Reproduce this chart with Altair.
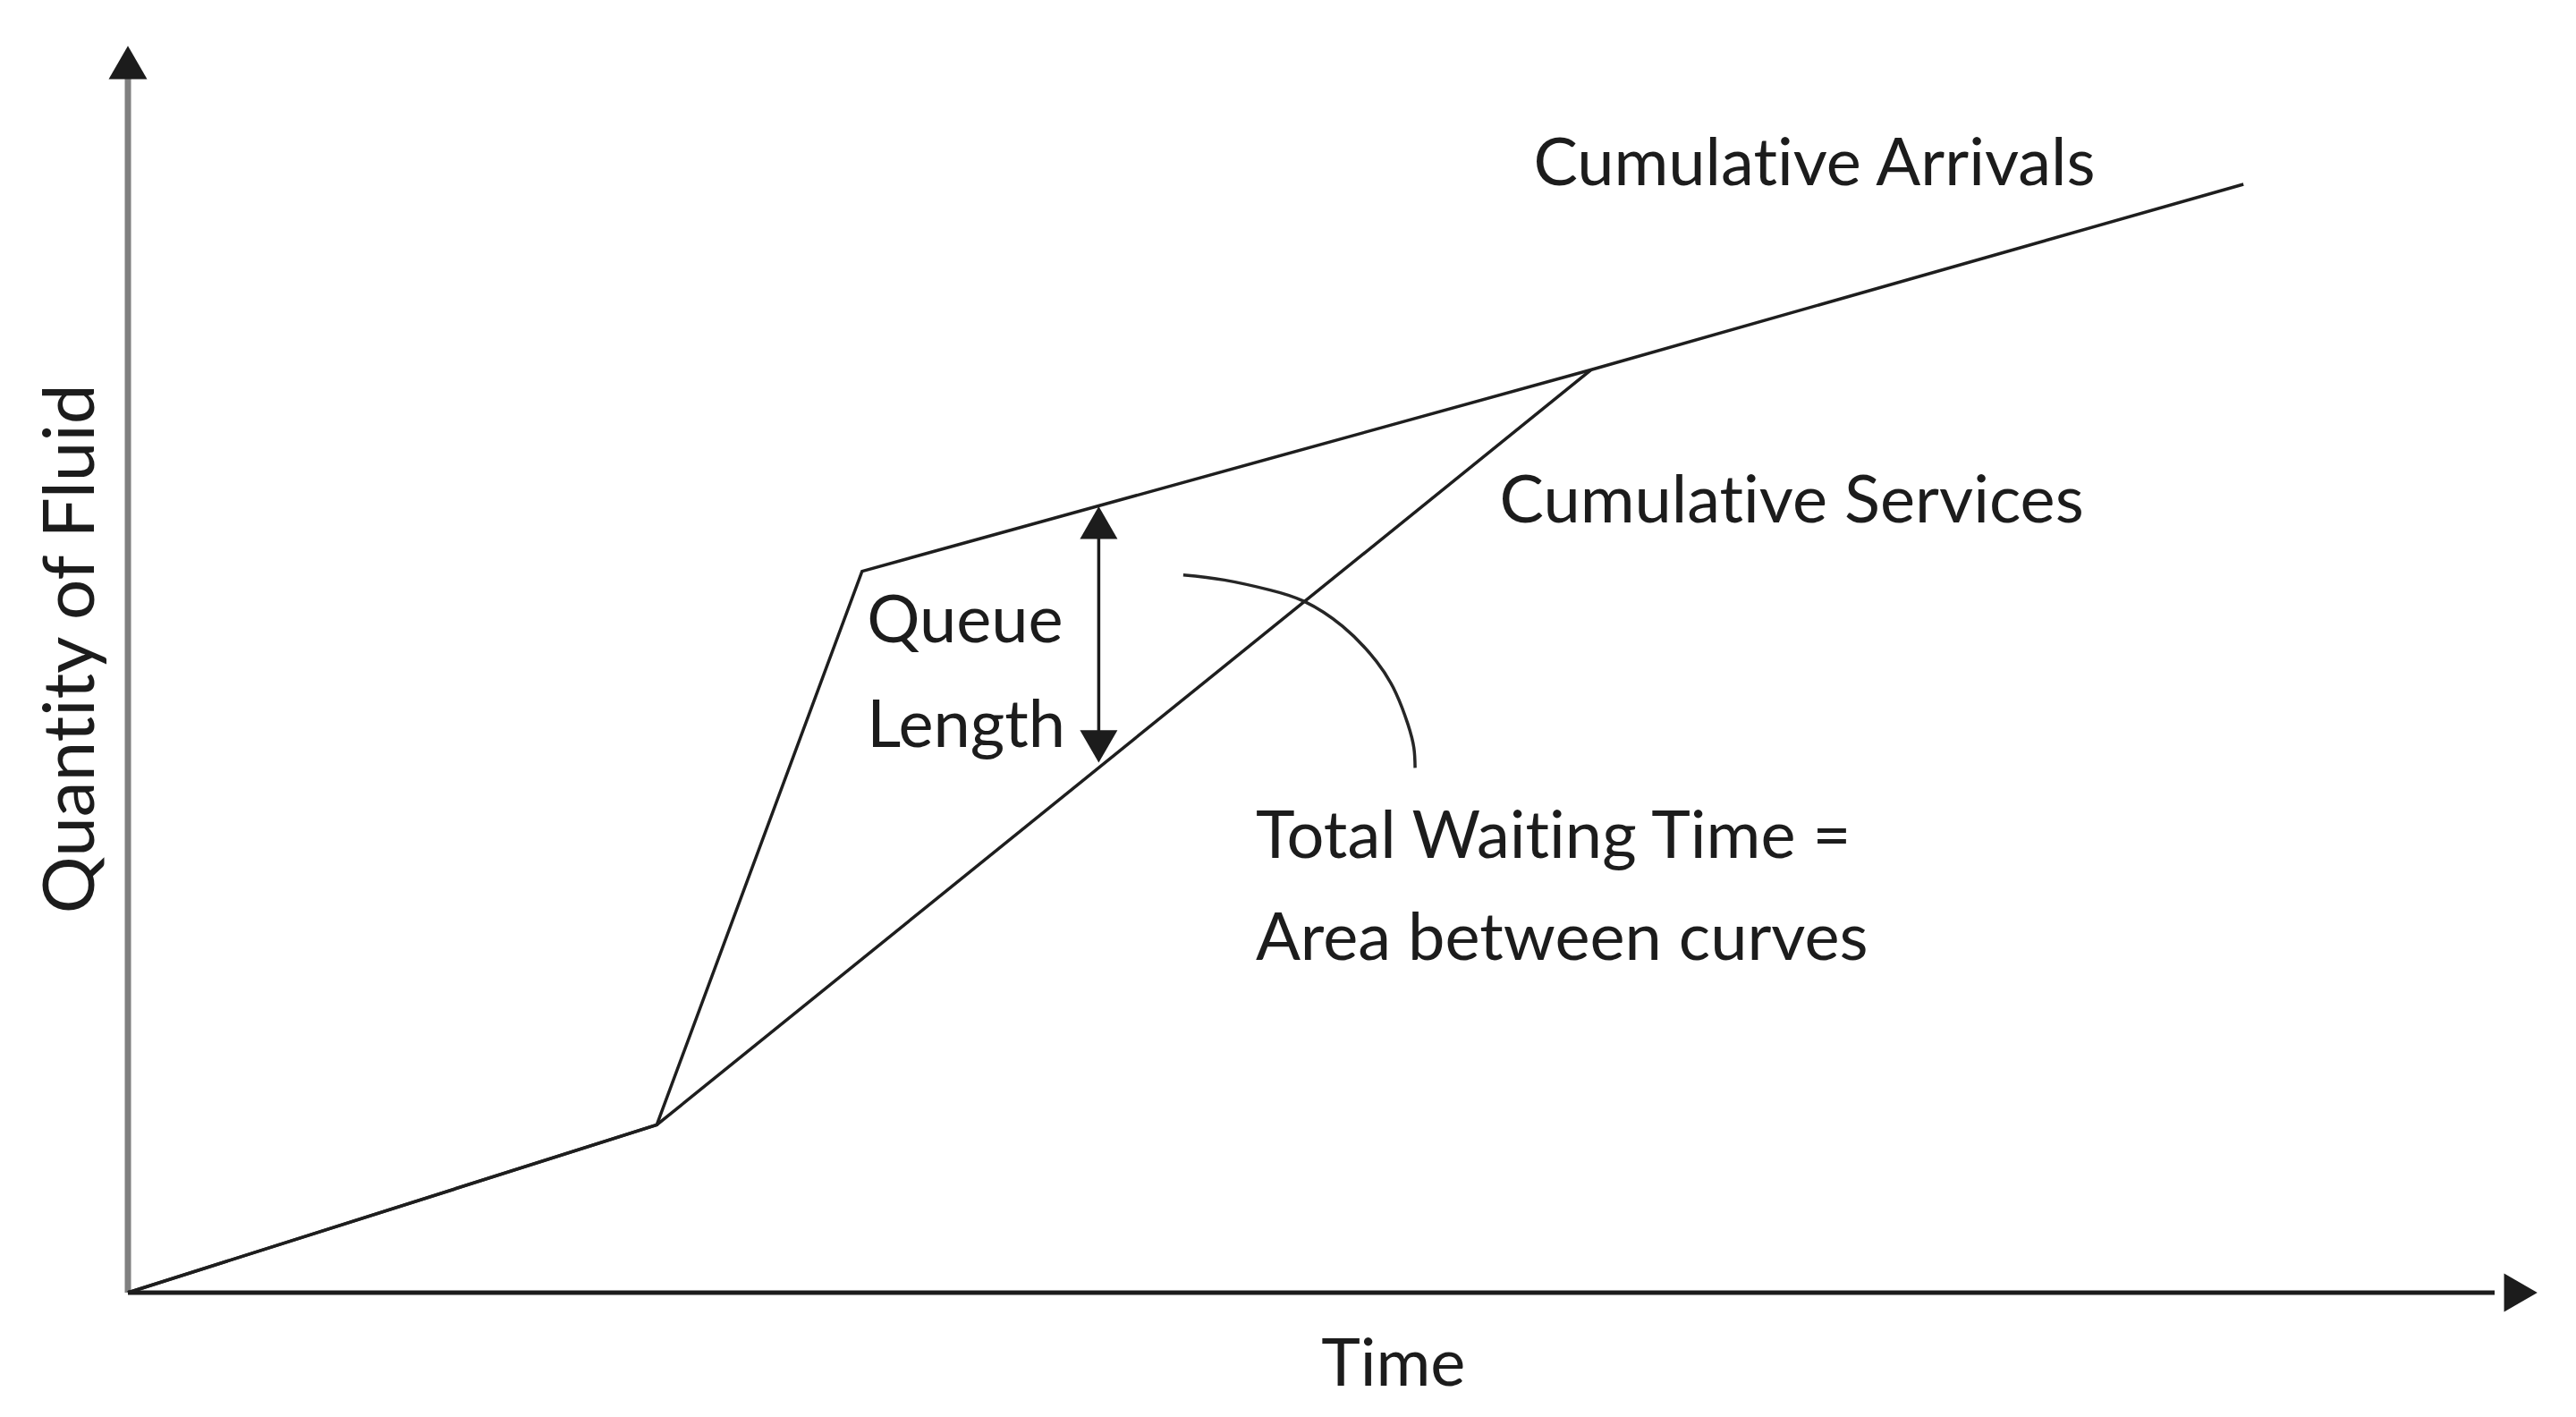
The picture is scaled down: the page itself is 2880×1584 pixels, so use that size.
import altair as alt
import pandas as pd

ZW = "\u200c"  # keeps "t" and "i" as separate glyphs (no ligature), as in the reference

# ---------------- data ----------------
arrivals_time = [0, 21.9, 30.4, 60.6, 87.6]
arrivals_qty = [0, 13.4, 57.6, 73.7, 88.5]

services_time = [0, 21.9, 60.6]
services_qty = [0, 13.4, 73.7]

queue_time = 40.2
queue_top = 63.2
queue_bottom = 41.9

arc_time = [43.7, 45.4, 47.3, 48.7, 50.3, 51.7, 52.5, 53.0, 53.25, 53.3]
arc_qty = [57.3, 56.9, 56.1, 55.2, 53.2, 50.4, 47.9, 45.4, 43.5, 41.9]

labels = ["Cumulative Arrivals", "Cumulative Services", "Queue", "Length",
          "Total Waiting Time =", "Area between curves"]
label_time = [58.2, 56.8, 30.6, 30.6, 46.7, 46.7]
label_qty = [88.4, 61.5, 51.9, 43.6, 34.7, 26.6]

x_title = "Time"
y_title = "Quantity of Fluid"
x_title_pos = (52.4, -7.4)
y_title_pos = (-1.4, 51.4)

axis_x_end = 100
axis_y_end = 100

# ---------------- layout ----------------
W, H = 2864, 1560
FONT = "Lato"
INK = "#1c1c1c"

xs = alt.Scale(domain=[-5.0, 101.074], nice=False, zero=False)
ys = alt.Scale(domain=[-8.786, 102.643], nice=False, zero=False)


def noliga(s):
    return s.replace("ti", "t" + ZW + "i")


def enc(chart):
    return chart.encode(
        x=alt.X("t:Q", scale=xs, axis=None),
        y=alt.Y("q:Q", scale=ys, axis=None),
    )


y_axis = enc(alt.Chart(pd.DataFrame({"t": [0, 0], "q": [0, axis_y_end - 3]}))
             .mark_line(color="#808080", strokeWidth=7, strokeCap="butt"))
x_axis = enc(alt.Chart(pd.DataFrame({"t": [0, axis_x_end - 2], "q": [0, 0]}))
             .mark_line(color=INK, strokeWidth=5, strokeCap="butt"))
y_head = enc(alt.Chart(pd.DataFrame({"t": [0], "q": [axis_y_end]}))
             .mark_point(shape="triangle-up", size=1849, filled=True, opacity=1,
                         color=INK, yOffset=24.8))
x_head = enc(alt.Chart(pd.DataFrame({"t": [axis_x_end], "q": [0]}))
             .mark_point(shape="triangle-right", size=1849, filled=True, opacity=1,
                         color=INK, xOffset=-24.8))

arrivals = enc(alt.Chart(pd.DataFrame({"t": arrivals_time, "q": arrivals_qty}))
               .mark_line(color="#1e1e1e", strokeWidth=3.5))
services = enc(alt.Chart(pd.DataFrame({"t": services_time, "q": services_qty}))
               .mark_line(color="#1e1e1e", strokeWidth=3.5))

q_shaft = enc(alt.Chart(pd.DataFrame({"t": [queue_time, queue_time],
                                      "q": [queue_bottom + 2, queue_top - 2]}))
              .mark_line(color=INK, strokeWidth=3.5))
q_top = enc(alt.Chart(pd.DataFrame({"t": [queue_time], "q": [queue_top]}))
            .mark_point(shape="triangle-up", size=1764, filled=True, opacity=1,
                        color=INK, yOffset=24))
q_bot = enc(alt.Chart(pd.DataFrame({"t": [queue_time], "q": [queue_bottom]}))
            .mark_point(shape="triangle-down", size=1764, filled=True, opacity=1,
                        color=INK, yOffset=-24))

arc = enc(alt.Chart(pd.DataFrame({"t": arc_time, "q": arc_qty}))
          .mark_line(color="#262626", strokeWidth=3.5, interpolate="natural"))

text = alt.Chart(pd.DataFrame({"t": label_time, "q": label_qty,
                               "label": [noliga(s) for s in labels]})).mark_text(
    align="left", baseline="alphabetic", font=FONT, fontSize=74, color=INK
).encode(
    x=alt.X("t:Q", scale=xs, axis=None),
    y=alt.Y("q:Q", scale=ys, axis=None),
    text="label:N",
)

xt = alt.Chart(pd.DataFrame({"t": [x_title_pos[0]], "q": [x_title_pos[1]],
                             "label": [x_title]})).mark_text(
    align="center", baseline="alphabetic", font=FONT, fontSize=74, color=INK
).encode(
    x=alt.X("t:Q", scale=xs, axis=None),
    y=alt.Y("q:Q", scale=ys, axis=None),
    text="label:N",
)

yt = alt.Chart(pd.DataFrame({"t": [y_title_pos[0]], "q": [y_title_pos[1]],
                             "label": [noliga(y_title)]})).mark_text(
    align="center", baseline="alphabetic", font=FONT, fontSize=80, color=INK, angle=270
).encode(
    x=alt.X("t:Q", scale=xs, axis=None),
    y=alt.Y("q:Q", scale=ys, axis=None),
    text="label:N",
)

chart = alt.layer(
    y_axis, x_axis, y_head, x_head, arrivals, services, q_shaft, q_top, q_bot, arc,
    text, xt, yt
).properties(
    width=W, height=H, padding=0, autosize="none", background="white"
).configure_view(stroke=None)

chart.save("out.html", embed_options={"renderer": "svg", "actions": False})
